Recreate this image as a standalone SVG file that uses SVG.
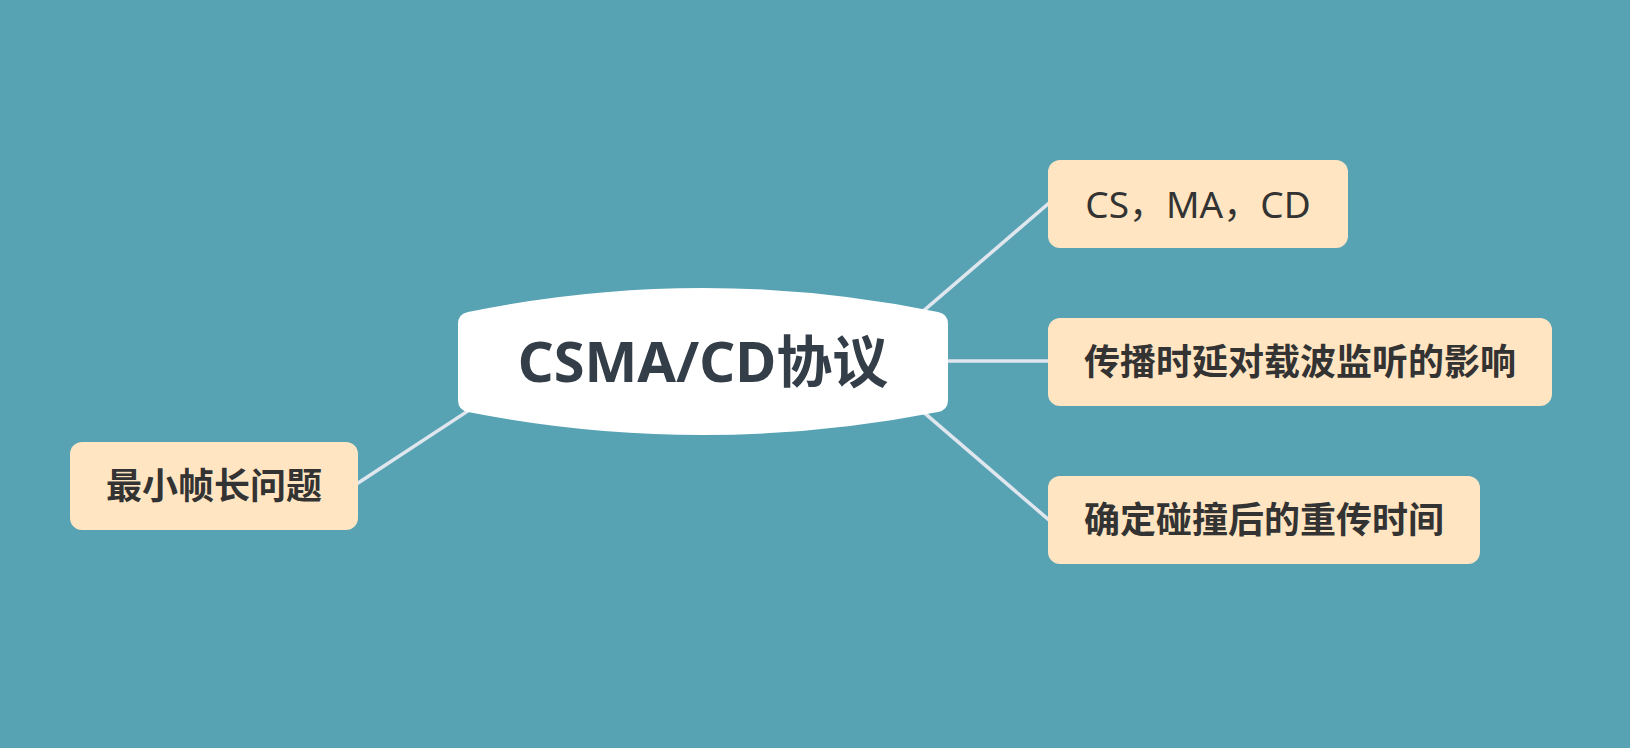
<svg xmlns="http://www.w3.org/2000/svg" width="1630" height="748" viewBox="0 0 1630 748">
<style>
.bg{fill:#57a3b4}
.conn{stroke:#dfe6ee;stroke-width:3.5;fill:none;stroke-linecap:round}
.child rect{fill:#ffe5c1}
.child text{font-family:"Noto Sans","Noto Sans CJK SC",sans-serif;font-size:36px;font-weight:700;fill:#333333;text-anchor:middle;dominant-baseline:central}
.root text{font-family:"Noto Sans","Noto Sans CJK SC",sans-serif;font-size:56px;font-weight:700;fill:#333e48;text-anchor:middle}
</style>
<rect class="bg" x="0" y="0" width="1630" height="748"/>
<g id="connectors">
<line class="conn" x1="914.7" y1="318.3" x2="1052" y2="200.5"/>
<line class="conn" x1="940" y1="361" x2="1052" y2="361"/>
<line class="conn" x1="914.7" y1="404.7" x2="1052" y2="522.6"/>
<line class="conn" x1="477.6" y1="404.6" x2="352" y2="487"/>
</g>
<g id="root" class="root">
<path d="M468,312 Q703,264 938,312 Q948,314 948,324 L948,400 Q948,410 938,412 Q703,458 468,412 Q458,410 458,400 L458,324 Q458,314 468,312 Z" fill="#ffffff"/>
<text x="703" y="382">CSMA/CD协议</text>
</g>
<g id="n1" class="child">
<rect x="1048" y="160" width="300" height="88" rx="12"/>
<text x="1198" y="203" style="font-weight:400;font-size:37px">CS，MA，CD</text>
</g>
<g id="n2" class="child">
<rect x="1048" y="318" width="504" height="88" rx="12"/>
<text x="1300" y="361">传播时延对载波监听的影响</text>
</g>
<g id="n3" class="child">
<rect x="1048" y="476" width="432" height="88" rx="12"/>
<text x="1264" y="519">确定碰撞后的重传时间</text>
</g>
<g id="n4" class="child">
<rect x="70" y="442" width="288" height="88" rx="12"/>
<text x="214" y="485">最小帧长问题</text>
</g>
</svg>
